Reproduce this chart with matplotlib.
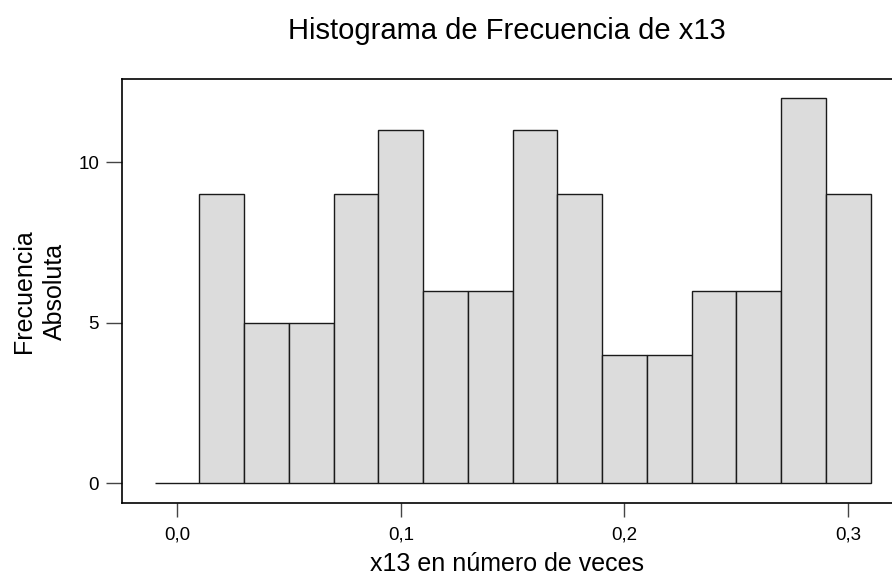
import numpy as np
import matplotlib.pyplot as plt
from matplotlib.ticker import FuncFormatter

plt.rcParams['font.family'] = ['Liberation Sans', 'DejaVu Sans']

# bin edges and counts
bin_edges = [-0.01, 0.01, 0.03, 0.05, 0.07, 0.09, 0.11, 0.13, 0.15,
             0.17, 0.19, 0.21, 0.23, 0.25, 0.27, 0.29, 0.31]
counts = [0, 9, 5, 5, 9, 11, 6, 6, 11, 9, 4, 4, 6, 6, 12, 9]
x_ticks = [0.0, 0.1, 0.2, 0.3]
y_ticks = [0, 5, 10]

fig = plt.figure(figsize=(8.92, 5.78), dpi=100)
ax = fig.add_axes([0.1368, 0.1298, 0.8632, 0.7335])

edges = np.array(bin_edges)
ax.bar(edges[:-1], counts, width=np.diff(edges), align='edge',
       color='#dcdcdc', edgecolor='#1a1a1a', linewidth=1.0)

ax.set_xlim(-0.0246, 0.3196)
ax.set_ylim(-0.62, 12.59)

ax.spines['right'].set_visible(False)
for s in ['left', 'top', 'bottom']:
    ax.spines[s].set_linewidth(1.2)
    ax.spines[s].set_color('black')

ax.set_xticks(x_ticks)
ax.set_yticks(y_ticks)
ax.xaxis.set_major_formatter(FuncFormatter(lambda v, p: f'{v:.1f}'.replace('.', ',')))
ax.tick_params(axis='x', length=10, width=1, color='#444444', labelsize=13.5, pad=7)
ax.tick_params(axis='y', length=11.5, width=1, color='#444444', labelsize=13.5, pad=5)

ax.set_title('Histograma de Frecuencia de x13', fontsize=21, pad=29)
ax.set_xlabel('x13 en número de veces', fontsize=18, labelpad=6)
ax.set_ylabel('Frecuencia\nAbsoluta', fontsize=18, labelpad=8, linespacing=1.4)

fig.savefig('out.png', dpi=100)
